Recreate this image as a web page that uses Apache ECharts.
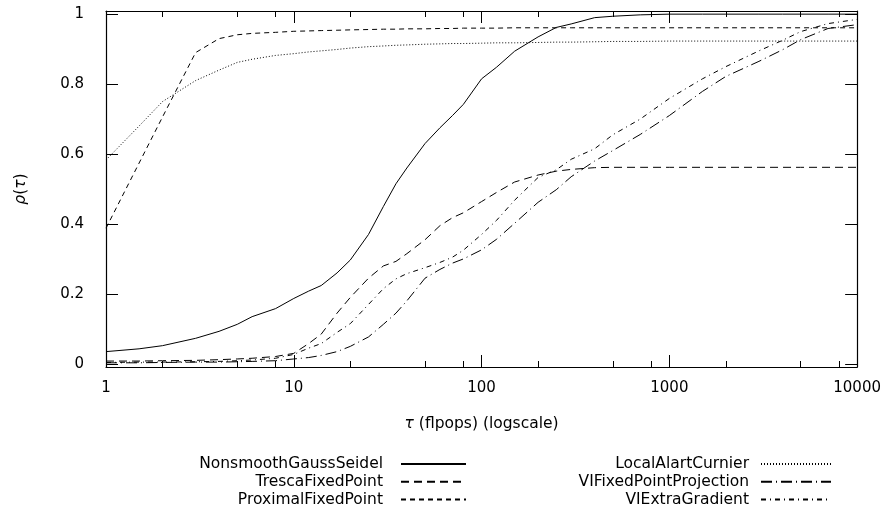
<!DOCTYPE html>
<html><head><meta charset="utf-8">
<script src="https://cdn.jsdelivr.net/npm/echarts@6/dist/echarts.min.js"></script>
<style>html,body{margin:0;padding:0;background:#fff}#c{width:884px;height:509px}</style>
</head><body><div id="c"></div>
<script>
// performance-profile samples (tau values shared by all series)
const tau = [1, 1.5, 2, 3, 4, 5, 6, 8, 10, 12, 14, 17, 20, 25, 30, 35, 40, 50, 60, 70, 80, 100, 120, 150, 200, 250, 300, 400, 500, 700, 1000, 1500, 2000, 3000, 4000, 5000, 7000, 10000];
const seriesNames = ['NonsmoothGaussSeidel', 'TrescaFixedPoint', 'ProximalFixedPoint', 'LocalAlartCurnier', 'VIFixedPointProjection', 'VIExtraGradient'];
const nonsmoothGaussSeidel = [0.035, 0.043, 0.052, 0.073, 0.093, 0.113, 0.135, 0.158, 0.187, 0.208, 0.224, 0.26, 0.297, 0.37, 0.45, 0.515, 0.56, 0.63, 0.675, 0.71, 0.742, 0.815, 0.848, 0.894, 0.935, 0.962, 0.972, 0.99, 0.994, 0.998, 1, 1, 1, 1, 1, 1, 1, 1];
const trescaFixedPoint = [0.008, 0.008, 0.009, 0.01, 0.012, 0.014, 0.016, 0.021, 0.03, 0.058, 0.085, 0.145, 0.19, 0.245, 0.28, 0.293, 0.315, 0.355, 0.395, 0.418, 0.432, 0.464, 0.49, 0.52, 0.54, 0.551, 0.556, 0.561, 0.562, 0.562, 0.562, 0.562, 0.562, 0.562, 0.562, 0.562, 0.562, 0.562];
const proximalFixedPoint = [0.388, 0.574, 0.706, 0.89, 0.93, 0.941, 0.945, 0.948, 0.951, 0.952, 0.953, 0.954, 0.955, 0.956, 0.957, 0.957, 0.958, 0.958, 0.959, 0.959, 0.96, 0.96, 0.96, 0.961, 0.961, 0.961, 0.961, 0.961, 0.961, 0.961, 0.961, 0.961, 0.961, 0.961, 0.961, 0.961, 0.961, 0.961];
const localAlartCurnier = [0.583, 0.68, 0.75, 0.81, 0.84, 0.862, 0.871, 0.882, 0.887, 0.892, 0.895, 0.899, 0.903, 0.907, 0.909, 0.911, 0.912, 0.914, 0.915, 0.916, 0.916, 0.917, 0.918, 0.918, 0.919, 0.92, 0.92, 0.921, 0.922, 0.922, 0.923, 0.923, 0.923, 0.923, 0.923, 0.923, 0.923, 0.923];
const viFixedPointProjection = [0.003, 0.003, 0.004, 0.005, 0.005, 0.006, 0.007, 0.009, 0.014, 0.018, 0.024, 0.035, 0.05, 0.077, 0.113, 0.145, 0.18, 0.245, 0.27, 0.288, 0.3, 0.326, 0.356, 0.402, 0.462, 0.498, 0.535, 0.58, 0.61, 0.656, 0.71, 0.779, 0.822, 0.865, 0.898, 0.927, 0.959, 0.97];
const viExtraGradient = [0.004, 0.005, 0.005, 0.006, 0.007, 0.009, 0.011, 0.016, 0.027, 0.045, 0.058, 0.09, 0.115, 0.17, 0.215, 0.243, 0.258, 0.275, 0.29, 0.305, 0.325, 0.37, 0.41, 0.468, 0.533, 0.555, 0.585, 0.615, 0.655, 0.7, 0.759, 0.815, 0.85, 0.895, 0.925, 0.95, 0.973, 0.985];

const xMajorTicks = [1, 10, 100, 1000, 10000];
const xMinorTicks = [2, 5, 8, 20, 50, 80, 200, 500, 800, 2000, 5000, 8000];
const yTicks = [0, 0.2, 0.4, 0.6, 0.8, 1];
const yTickLabels = ['0', '0.2', '0.4', '0.6', '0.8', '1'];

const seriesValues = [nonsmoothGaussSeidel, trescaFixedPoint, proximalFixedPoint, localAlartCurnier, viFixedPointProjection, viExtraGradient];
const dashTypes = ['solid', [8, 5], [5, 4], [1, 2], [11, 4, 1, 4], [5, 4, 1, 4]];

const FONT = 'DejaVu Sans';
const TICK_COLOR = 'black';

function xAxisDef(pos, ticks, len, withLine, withLabel) {
  return {
    type: 'log', logBase: 10, min: 1, max: 10000, position: pos,
    axisLine: { show: withLine, onZero: false, lineStyle: { color: '#000', width: 1.2 } },
    axisTick: { show: true, inside: true, length: len, customValues: ticks, lineStyle: { color: TICK_COLOR, width: 1 } },
    axisLabel: withLabel ? {
      show: true, customValues: ticks, margin: 14, color: '#000', fontFamily: FONT, fontSize: 15,
      formatter: v => String(Math.round(v))
    } : { show: false },
    splitLine: { show: false }
  };
}
function yAxisDef(pos, withLabel) {
  return {
    type: 'value', min: -0.009, max: 1.009, position: pos,
    axisLine: { show: true, onZero: false, lineStyle: { color: '#000', width: 1.2 } },
    axisTick: { show: true, inside: true, length: 12, customValues: yTicks, lineStyle: { color: TICK_COLOR, width: 1 } },
    axisLabel: withLabel ? {
      show: true, customValues: yTicks, margin: 22, color: '#000', fontFamily: FONT, fontSize: 15,
      formatter: v => yTickLabels[yTicks.findIndex(t => Math.abs(t - v) < 1e-6)] ?? String(v)
    } : { show: false },
    splitLine: { show: false }
  };
}

const nameStyle = () => ({ color: '#000', fontFamily: FONT, fontSize: 15.5, rich: { i: { fontStyle: 'italic', fontFamily: FONT, fontSize: 15.5 } } });

const xMain = xAxisDef('bottom', xMajorTicks, 12, true, true);
xMain.name = '{i|τ} (flpops) (logscale)';
xMain.nameLocation = 'middle';
xMain.nameGap = 49;
xMain.nameTextStyle = nameStyle();

const yMain = yAxisDef('left', true);
yMain.name = '{i|ρ}({i|τ})';
yMain.nameLocation = 'middle';
yMain.nameRotate = 90;
yMain.nameGap = 77;
yMain.nameTextStyle = nameStyle();

function legendDef(names, right, itemWidth, textPad) {
  return {
    data: names, orient: 'vertical', align: 'right', top: 455, right: right,
    itemWidth: itemWidth, itemHeight: 12, itemGap: 0, padding: 0, selectedMode: false,
    itemStyle: { opacity: 0, color: 'rgba(0,0,0,0)', borderWidth: 0 },
    textStyle: { fontFamily: FONT, fontSize: 15.5, color: '#000', lineHeight: 17.8, padding: [0, textPad, 0, 0] }
  };
}

const option = {
  animation: false,
  backgroundColor: '#fff',
  grid: { left: 106, right: 25, top: 11, bottom: 142, containLabel: false },
  xAxis: [
    xMain,
    xAxisDef('bottom', xMinorTicks, 6, false, false),
    xAxisDef('top', xMajorTicks, 12, true, false),
    xAxisDef('top', xMinorTicks, 6, false, false)
  ],
  yAxis: [yMain, yAxisDef('right', false)],
  legend: [
    legendDef(seriesNames.slice(0, 3), 417, 65, 13),
    legendDef(seriesNames.slice(3), 52, 70, 7)
  ],
  series: seriesNames.map((name, k) => ({
    name, type: 'line', xAxisIndex: 0, yAxisIndex: 0,
    symbol: 'none', showSymbol: false, smooth: false,
    color: '#000',
    lineStyle: { color: '#000', width: 1, type: dashTypes[k] },
    data: tau.map((t, i) => [t, seriesValues[k][i]])
  }))
};

const chart = echarts.init(document.getElementById('c'), null, { renderer: 'canvas' });
chart.setOption(option);
</script>
</body></html>
